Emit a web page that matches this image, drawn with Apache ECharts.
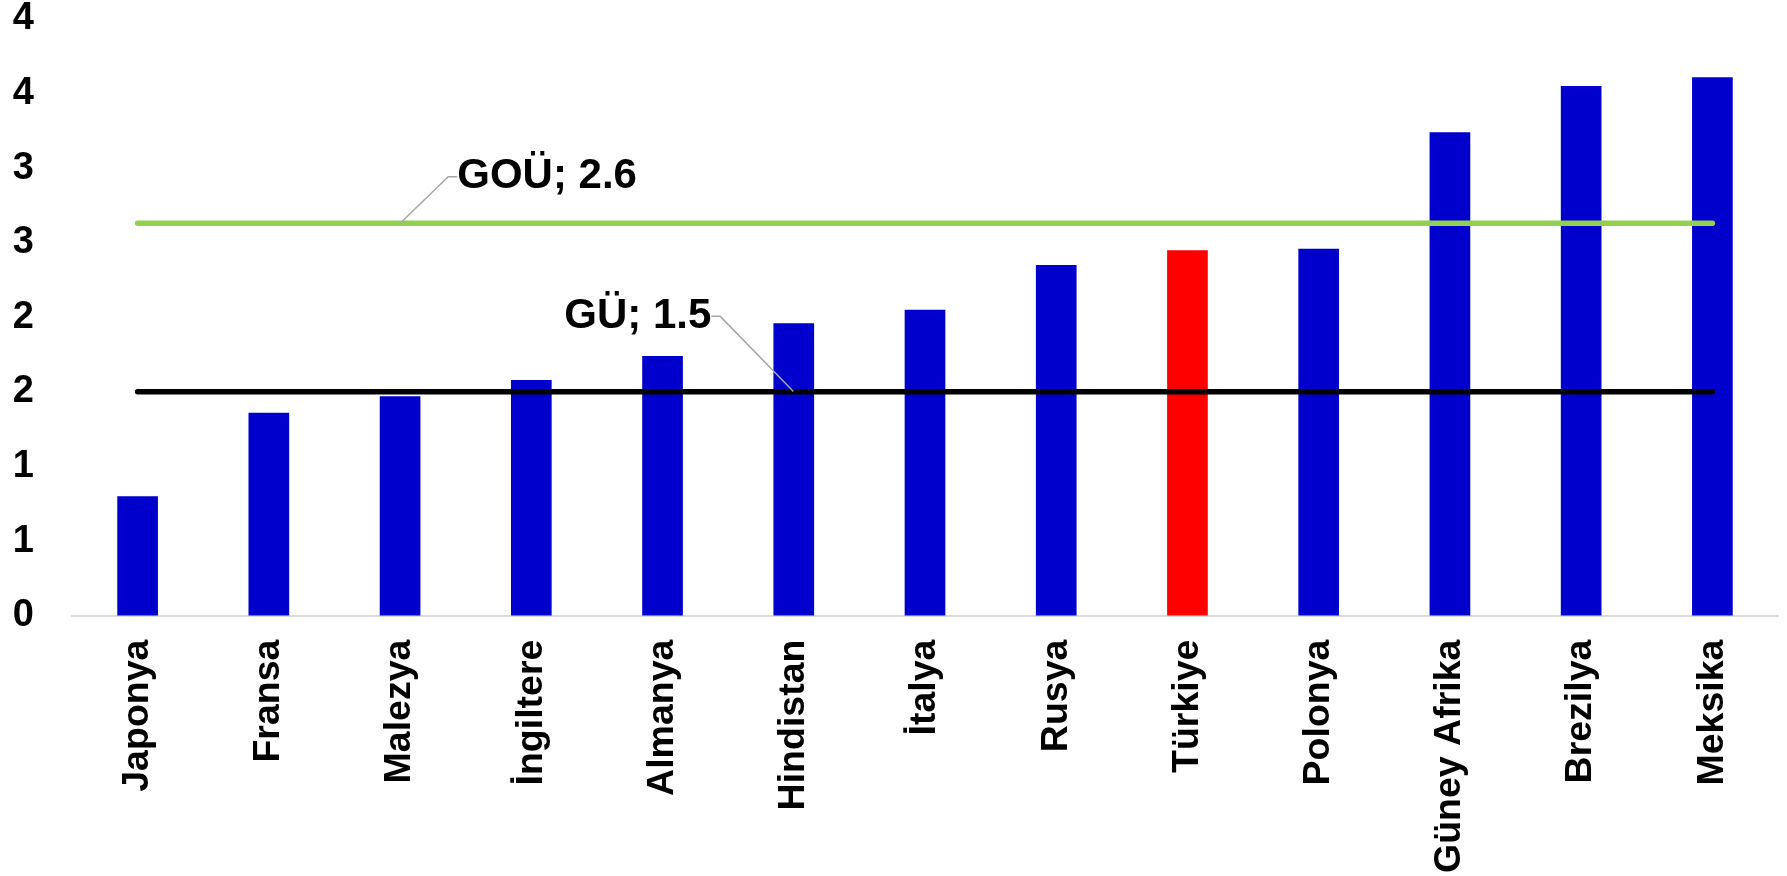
<!DOCTYPE html>
<html>
<head>
<meta charset="utf-8">
<script src="https://cdn.jsdelivr.net/npm/echarts@6/dist/echarts.min.js"></script>
<style>
    html, body { margin: 0; padding: 0; background: #fff; }
    #chart { width: 1787px; height: 876px; }
</style>
</head>
<body>
<div id="chart"></div>
<script>
// data
const countries = ['Japonya', 'Fransa', 'Malezya', 'İngiltere', 'Almanya', 'Hindistan', 'İtalya',
    'Rusya', 'Türkiye', 'Polonya', 'Güney Afrika', 'Brezilya', 'Meksika']
const values = [0.8, 1.36, 1.47, 1.58, 1.74, 1.96, 2.05, 2.35, 2.45, 2.46, 3.24, 3.55, 3.61]
const highlight = 'Türkiye'
const gouLine = [2.63, 2.63, 2.63, 2.63, 2.63, 2.63, 2.63, 2.63, 2.63, 2.63, 2.63, 2.63, 2.63]
const guLine = [1.5, 1.5, 1.5, 1.5, 1.5, 1.5, 1.5, 1.5, 1.5, 1.5, 1.5, 1.5, 1.5]
const gouLabel = 'GOÜ; 2.6'
const guLabel = 'GÜ; 1.5'
const gouLabelAt = 2
const guLabelAt = 5
const yTickLabels = ['0', '1', '1', '2', '2', '3', '3', '4', '4']

const font = 'Liberation Sans'

const barData = values.map((v, i) => ({
    value: v,
    itemStyle: { color: countries[i] === highlight ? '#FF0000' : '#0000CC' }
}))

function refLine(arr, at, text) {
    return arr.map((v, i) => {
        if (i !== at) return v
        return {
            value: v,
            label: {
                show: true,
                formatter: text,
                position: 'top',
                distance: 5,
                color: '#000',
                fontFamily: font,
                fontWeight: 'bold',
                fontSize: 42
            }
        }
    })
}

const chart = echarts.init(document.getElementById('chart'))
chart.setOption({
    animation: false,
    grid: { left: 72, right: 9, top: 19, bottom: 257 },
    xAxis: {
        type: 'category',
        data: countries,
        axisLine: { lineStyle: { color: '#d9d9d9', width: 2 } },
        axisTick: { show: false },
        axisLabel: {
            rotate: 90,
            interval: 0,
            margin: 24,
            color: '#000',
            fontFamily: font,
            fontWeight: 'bold',
            fontSize: 37.5
        }
    },
    yAxis: {
        type: 'value',
        min: 0,
        max: 4,
        interval: 0.5,
        splitLine: { show: false },
        axisLine: { show: false },
        axisTick: { show: false },
        axisLabel: {
            margin: 38,
            color: '#000',
            fontFamily: font,
            fontWeight: 'bold',
            fontSize: 38,
            formatter: v => yTickLabels[Math.round(v / 0.5)]
        }
    },
    series: [{
        type: 'bar',
        barWidth: '31%',
        data: barData,
        z: 2
    }, {
        type: 'line',
        data: refLine(gouLine, gouLabelAt, gouLabel),
        symbol: 'circle',
        symbolSize: 1,
        showSymbol: true,
        itemStyle: { color: '#92D050' },
        lineStyle: { color: '#92D050', width: 5.5, cap: 'round' },
        labelLine: { show: true, length2: 9, lineStyle: { color: '#a6a6a6', width: 1.5 } },
        labelLayout: p => p.dataIndex === gouLabelAt ? { dx: 147, dy: -20 } : {},
        z: 3
    }, {
        type: 'line',
        data: refLine(guLine, guLabelAt, guLabel),
        symbol: 'circle',
        symbolSize: 1,
        showSymbol: true,
        itemStyle: { color: '#000' },
        lineStyle: { color: '#000', width: 5.5, cap: 'round' },
        labelLine: { show: true, length2: 9, lineStyle: { color: '#a6a6a6', width: 1.5 } },
        labelLayout: p => p.dataIndex === guLabelAt ? { dx: -156, dy: -49 } : {},
        z: 3
    }]
})
</script>
</body>
</html>
